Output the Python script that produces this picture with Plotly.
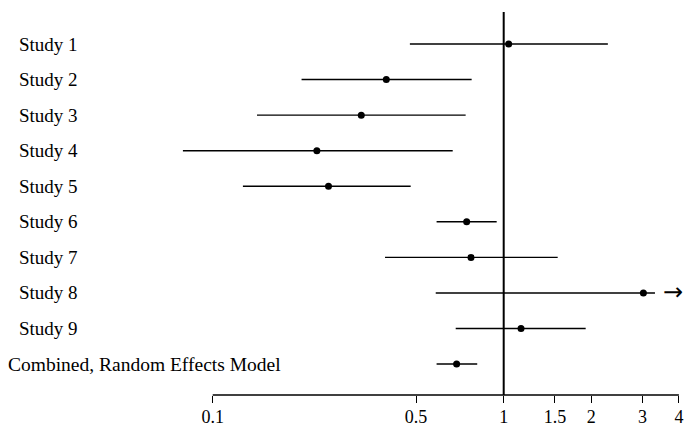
import math
import plotly.graph_objects as go

labels = ["Study 1", "Study 2", "Study 3", "Study 4", "Study 5",
          "Study 6", "Study 7", "Study 8", "Study 9",
          "Combined, Random Effects Model"]
estimate = [1.04, 0.395, 0.324, 0.228, 0.250, 0.746, 0.772, 3.02, 1.147, 0.689]
ci_lower = [0.476, 0.202, 0.142, 0.079, 0.127, 0.588, 0.391, 0.584, 0.684, 0.588]
ci_upper = [2.28, 0.776, 0.740, 0.668, 0.479, 0.946, 1.533, 3.31, 1.913, 0.811]
truncated = [False, False, False, False, False, False, False, True, False, False]
tick_vals = [0.1, 0.5, 1, 1.5, 2, 3, 4]
tick_text = ["0.1", "0.5", "1", "1.5", "2", "3", "4"]

rows = list(range(1, len(labels) + 1))

W, H = 687, 430
ML, MR, MT, MB = 170, 5, 12, 35
PW = W - ML - MR

FONT = "Liberation Serif"

seg_x, seg_y = [], []
for lo, hi, r in zip(ci_lower, ci_upper, rows):
    seg_x += [lo, hi, None]
    seg_y += [r, r, None]

fig = go.Figure()
fig.add_trace(go.Scatter(x=seg_x, y=seg_y, mode="lines",
                         line=dict(color="black", width=1.4),
                         hoverinfo="skip", showlegend=False))
fig.add_trace(go.Scatter(x=estimate, y=rows, mode="markers",
                         marker=dict(color="black", size=7),
                         showlegend=False))

# reference line at 1
fig.add_shape(type="line", xref="x", yref="paper", x0=1, x1=1, y0=0, y1=1,
              line=dict(color="black", width=2))
# axis line from first to last tick
fig.add_shape(type="line", xref="x", yref="paper",
              x0=tick_vals[0], x1=tick_vals[-1], y0=0, y1=0,
              line=dict(color="black", width=1.3))

annotations = []
for lab, r in zip(labels, rows):
    combined = lab.startswith("Combined")
    px = 8 if combined else 19
    annotations.append(dict(x=(px - ML) / PW, xref="paper", y=r, yref="y",
                            text=lab, showarrow=False, xanchor="left",
                            yanchor="middle", xshift=-2,
                            font=dict(family=FONT, size=19.5 if combined else 19,
                                      color="black")))
for hi, r, t in zip(ci_upper, rows, truncated):
    if t:
        annotations.append(dict(x=math.log10(hi), xref="x", y=r, yref="y",
                                text="→", showarrow=False, xanchor="left",
                                yanchor="middle", xshift=6, yshift=1,
                                font=dict(family="DejaVu Sans", size=24,
                                          color="black")))

x_lo = math.log10(tick_vals[0]) - (212.7 - ML) / 291.0
x_hi = x_lo + PW / 291.0

fig.update_layout(
    width=W, height=H,
    margin=dict(l=ML, r=MR, t=MT, b=MB),
    paper_bgcolor="white", plot_bgcolor="white",
    annotations=annotations,
    xaxis=dict(type="log", range=[x_lo, x_hi], tickvals=tick_vals,
               ticktext=tick_text, ticks="outside", ticklen=7,
               tickwidth=1.3, tickcolor="black", showline=False,
               showgrid=False, zeroline=False, automargin=False,
               ticklabelstandoff=-2,
               tickfont=dict(family=FONT, size=18, color="black")),
    yaxis=dict(range=[10.87, 0.1], showticklabels=False, showgrid=False,
               zeroline=False, showline=False, ticks="", automargin=False),
)

fig.write_html("out.html",
               config={"displayModeBar": False},
               post_script="document.body.style.margin='0';"
                           "document.body.style.overflow='hidden';")
